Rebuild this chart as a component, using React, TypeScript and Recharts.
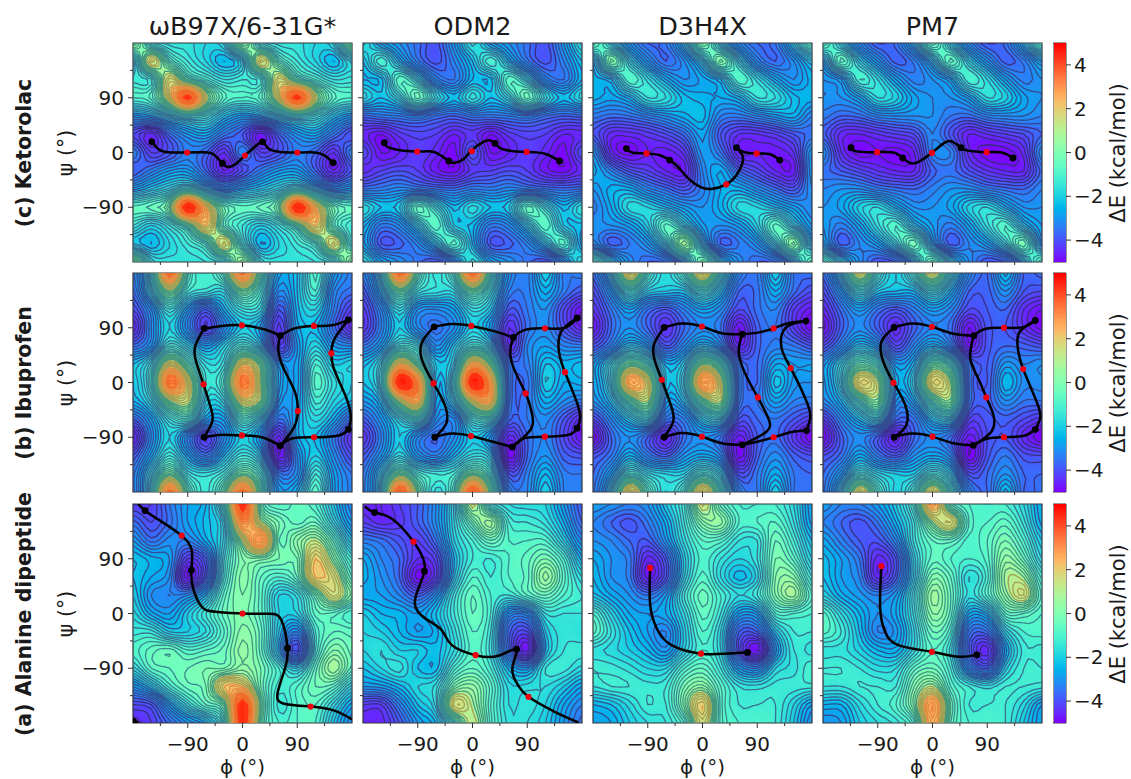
import React from "react";
import { ComposedChart, Scatter, Line, XAxis, YAxis, ReferenceArea } from "recharts";

const phiPsiTicks = [-135, -90, -45, 0, 45, 90, 135];
const majorTicks = [-90, 0, 90];
const colorbarTicks = [-4, -2, 0, 2, 4];
const colorbarLevels = Array.from({ length: 81 }, (_, i) => -5 + i * 0.125);
const methods = ["ωB97X/6-31G*", "ODM2", "D3H4X", "PM7"];
const molecules = ["(c) Ketorolac", "(b) Ibuprofen", "(a) Alanine dipeptide"];

// Energies (kcal/mol) read at phi = -180..180 (columns), psi = 180..-180 (rows), every 30 deg
const ketWb = [
[1,-1,-1.5,-1.5,-1.8,-1.5,1,-1,-1.5,-1.5,-1.8,-1.5,1],
[-1.5,1.5,-0.3,-1.2,-1.8,-2.4,-1.6,1.5,-0.3,-1.2,-1.8,-2.4,-1.5],
[-1.3,-1,1.5,0,-0.8,-1.4,-1.2,-1,1.5,0,-0.8,-1.4,-1.3],
[-0.8,-0.5,1.5,4.3,1.2,-0.5,-0.8,-0.5,1.5,4.3,1.2,-0.5,-0.8],
[-2.5,-2.2,-1.5,-0.8,-1,-2,-2.5,-2.2,-1.5,-0.8,-1,-2,-2.5],
[-4,-4.5,-3.5,-2.8,-2.5,-3.3,-3.8,-4.7,-3.6,-2.8,-2.5,-3.3,-4],
[-3.2,-4.2,-3.9,-3.3,-3.6,-4.4,-3.2,-4.2,-3.9,-3.3,-3.6,-4.4,-3.2],
[-3.8,-3.3,-2.8,-2.7,-3.6,-4.6,-4,-3.3,-2.8,-2.7,-3.6,-4.6,-3.8],
[-2.5,-2,-1.5,-0.8,-1.8,-2.7,-2.3,-2,-1.5,-0.8,-1.8,-2.7,-2.5],
[-0.5,-0.3,0.5,4.8,2,0,-0.5,-0.3,0.5,4.8,2,0,-0.5],
[-1.2,-1.8,-1.2,0,2,-0.3,-1.2,-1.8,-1.2,0,2,-0.3,-1.2],
[-2,-2.4,-1.8,-1.2,-0.5,1.5,-0.8,-2.4,-1.8,-1.2,-0.5,1.5,-0.8],
[1,-1.2,-1.5,-1.5,-1.4,-1,1,-1.2,-1.5,-1.5,-1.4,-1,1],
];
const ketOdm = [
[-1.5,-2.5,-3,-3.5,-3.9,-2.8,-1.5,-2.5,-3,-3.5,-3.9,-2.8,-1.5],
[-2.2,-1,-2.2,-3.3,-3.9,-3.2,-2.2,-1,-2.2,-3.3,-3.9,-3.2,-2.2],
[-2.4,-2.3,-0.6,-1.5,-3,-3.4,-2.4,-2.3,-0.6,-1.5,-3,-3.4,-2.4],
[-1.7,-2.2,-1.5,-0.1,-1.5,-2.3,-1.5,-2.2,-1.5,-0.1,-1.5,-2.3,-1.7],
[-3.5,-3.3,-3.2,-3,-3.4,-3.6,-3.3,-3.3,-3.2,-3,-3.4,-3.6,-3.5],
[-4.5,-4.8,-4.3,-4.1,-4.2,-4.6,-4.3,-4.8,-4.3,-4.1,-4.2,-4.6,-4.5],
[-4,-4.8,-4.6,-4.2,-4.5,-4.9,-3.8,-4.8,-4.6,-4.2,-4.5,-4.9,-4],
[-4.5,-4.2,-4,-4.2,-4.7,-4.9,-4.3,-4.2,-4,-4.2,-4.7,-4.9,-4.5],
[-3.4,-3.3,-3.1,-3.2,-3.4,-3.5,-3.2,-3.3,-3.1,-3.2,-3.4,-3.5,-3.4],
[-1.6,-2.2,-2,-0.3,-1.3,-2.3,-1.7,-2.2,-2,-0.3,-1.3,-2.3,-1.6],
[-2.3,-3.3,-3,-1.8,-0.6,-2,-2.3,-3.3,-3,-1.8,-0.6,-2,-2.3],
[-2.5,-3.8,-3.7,-3.1,-1.9,-0.7,-2.2,-3.8,-3.7,-3.1,-1.9,-0.7,-2.5],
[-1.5,-2.5,-3,-3.5,-3.8,-2.8,-1.5,-2.5,-3,-3.5,-3.8,-2.8,-1.5],
];
const ketD3 = [
[-0.2,-1.5,-2.8,-3.6,-3.4,-1.9,0.3,-1.6,-3,-3.6,-3.4,-1.8,-0.2],
[-2.2,0.3,-1.5,-2.8,-3.6,-3,-1.7,0.3,-1.5,-3,-3.6,-3,-2],
[-2.5,-2.2,-0.8,-1.5,-2.4,-3,-2.7,-2.2,-0.8,-1.5,-2.4,-3,-2.5],
[-2.5,-2.7,-2.3,-1.4,-1.6,-2.3,-2.5,-2.6,-2.3,-1.4,-1.6,-2.3,-2.5],
[-3.3,-3.5,-3.4,-3.1,-2.8,-2.5,-2.3,-3.2,-3.3,-3,-2.7,-2.5,-3.2],
[-3.8,-4.5,-4.5,-4.3,-4,-3.5,-2.7,-3.8,-4.4,-4.4,-4.2,-3.8,-3.5],
[-2.8,-4.5,-4.9,-4.6,-4.7,-4.3,-2.9,-3.4,-4.6,-4.6,-4.7,-4.4,-2.8],
[-2.5,-3.2,-3.9,-4.2,-4.6,-4.7,-3.2,-2.6,-3.6,-4.1,-4.6,-4.7,-2.8],
[-3,-2.5,-2.5,-3.1,-3.5,-3.9,-3.3,-2.6,-2.5,-3,-3.5,-3.9,-3],
[-3.3,-2.6,-1.7,-1.8,-2.2,-2.7,-3,-2.5,-1.7,-1.8,-2.2,-2.7,-3.2],
[-3,-3,-2.7,-1.9,-0.5,-1.5,-2.7,-3,-2.7,-1.8,-0.5,-1.6,-2.8],
[-2.8,-3.7,-3.4,-2.8,-1.4,1,-1.7,-3.6,-3.4,-2.8,-1.4,0.5,-2],
[-0.2,-1.8,-3,-3.6,-3.4,-2,0.2,-1.8,-3,-3.6,-3.4,-2,-0.2],
];
const ketPm7 = [
[-0.3,-1.7,-3,-3.8,-3.5,-2,0,-1.7,-3,-3.8,-3.5,-2,-0.3],
[-2.3,-0.3,-1.7,-2.8,-3.7,-3.3,-2,-0.3,-1.7,-2.8,-3.7,-3.3,-2.3],
[-3,-2.6,-1,-1.6,-2.6,-3.3,-3,-2.4,-1,-1.6,-2.6,-3.3,-3],
[-3,-3,-2.5,-1.6,-1.9,-2.7,-3,-3,-2.5,-1.6,-1.9,-2.7,-3],
[-3.3,-3.6,-3.5,-3.1,-3,-3,-3,-3.4,-3.5,-3.1,-3,-3,-3.2],
[-3.7,-4.5,-4.6,-4.4,-4.2,-4,-3.2,-3.9,-4.6,-4.4,-4.2,-4,-3.6],
[-3,-4.4,-4.9,-4.8,-4.9,-4.6,-3.2,-3.2,-4.5,-4.9,-4.9,-4.5,-3],
[-3.5,-3.8,-4.1,-4.4,-4.6,-4.6,-3.7,-3.5,-4,-4.4,-4.6,-4.6,-3.5],
[-3.2,-3,-3,-3.3,-3.5,-3.6,-3.3,-3,-3,-3.3,-3.5,-3.6,-3.2],
[-3,-2.7,-1.9,-1.6,-2.3,-3,-3,-2.7,-1.9,-1.6,-2.3,-3,-3],
[-2.8,-3.3,-2.6,-1.5,-0.8,-2,-2.8,-3.3,-2.6,-1.5,-0.8,-2,-2.8],
[-2.4,-3.7,-3.2,-2.6,-1.4,0,-2.2,-3.7,-3.2,-2.6,-1.4,0,-2.4],
[-0.3,-1.7,-3,-3.8,-3.5,-2,0,-1.7,-3,-3.8,-3.5,-2,-0.3],
];
const ibuWb = [
[-3.3,-1,3.5,-0.3,-1.2,0,3.2,0,-2.5,-2.2,-0.7,-2.5,-3.3],
[-3.5,-1.5,0.8,-1,-1.3,-1.5,0.5,-0.8,-3,-2.2,-1,-3,-3.5],
[-4,-2.8,-1.2,-2.5,-3.6,-2.3,-1.3,-1.5,-3.8,-2.3,-1.8,-3.2,-4.2],
[-4.6,-3,-1.8,-3,-4.2,-3,-2,-2.5,-4.3,-2.5,-2.3,-3.5,-4.5],
[-3.5,-2.8,-1,-1.7,-2.6,-1.8,-0.8,-1.8,-4.2,-2.8,-1.8,-2.8,-3],
[-2.2,-1.2,1.5,0,-1.5,-1.2,1.8,0.5,-2.5,-2.7,-1,-2,-1.8],
[-2.2,-0.8,3.5,1.5,-1.2,-0.5,3.4,0.8,-2.3,-2.7,-0.7,-1.5,-2],
[-2.4,-1.5,0.8,1.2,-1.6,-1.4,1.5,0.8,-2.6,-2.6,-1.1,-1.8,-2.2],
[-3.6,-2.6,-1.2,-0.7,-2.4,-2.5,-0.6,-1.5,-3.4,-2.5,-1.7,-2.4,-3.5],
[-4.7,-3,-1.8,-3,-4.2,-3,-1.9,-2.7,-4.5,-2.5,-2.2,-3.3,-4.4],
[-3.8,-2.5,-1.2,-2.4,-3.4,-2.2,-1.2,-2,-4.8,-3,-2,-3,-4],
[-3.3,-1.5,0.5,-1.2,-1.5,-1,0.5,-0.6,-3.3,-3,-1.2,-2.6,-3.4],
[-3.3,-1,3.3,0,-1.3,0.3,3.4,0,-2.6,-2.3,-0.6,-2.5,-3.3],
];
const ibuOdm = [
[-3.3,-1.2,3.5,0,-1.5,-0.3,3.5,-0.3,-2.8,-3.3,-2,-3.3,-3.3],
[-3.8,-2,0.3,-1.2,-1.5,-1.5,0.3,-1.2,-3.2,-3.3,-2.5,-3.3,-3.8],
[-4.3,-3,-1.5,-2.8,-3,-2.6,-1.5,-2,-3.8,-3.4,-3,-4,-4.8],
[-4.4,-3.2,-2,-3,-3.5,-3,-1.9,-2.7,-4.4,-3.5,-3.1,-3.9,-4.6],
[-3.4,-2.6,-1,-1.3,-3,-2,-0.8,-1.6,-4.4,-3.2,-2.8,-3.2,-3.3],
[-2.3,-1.3,2,0.3,-2,-1.5,2.3,0.5,-3.2,-3.3,-2.2,-2.5,-2.3],
[-2.2,-1,4.8,3,-2.2,-0.8,4.8,2.5,-3,-3.5,-2,-2.6,-2.5],
[-2.8,-2,1,2.3,-2.4,-1.5,1.5,2.2,-3.1,-3.4,-2.5,-3,-3.3],
[-3.7,-2.8,-1.5,-0.7,-2.8,-3,-0.9,-0.8,-3.5,-3.4,-3.1,-3.8,-4.5],
[-4.4,-3.2,-2,-3,-3.6,-3,-2,-2.7,-4.5,-3.6,-3.2,-4,-4.8],
[-3.8,-2.8,-1.6,-2.7,-3.2,-2.3,-1.5,-1.9,-4.9,-3.6,-3,-3.7,-3.9],
[-3.4,-1.7,0.5,-0.8,-1.2,-1,0.5,-0.8,-3.8,-3.3,-2.4,-3.3,-3.4],
[-3.3,-1.3,4,0.5,-1.5,-0.3,4,0.3,-3,-3.2,-2,-3.2,-3.3],
];
const ibuD3 = [
[-3.5,-1.5,1.8,-0.6,-1.7,-0.5,1.8,-0.8,-3,-3.4,-2,-3.4,-3.5],
[-4,-2.6,-0.8,-1.8,-2,-2,-0.8,-2,-3.6,-3.5,-2.6,-3.5,-4],
[-4.4,-3.4,-2.6,-3.4,-3.8,-3.2,-2.6,-3,-4,-3.5,-3.2,-4.2,-4.7],
[-4.8,-3.6,-3,-3.6,-4.4,-3.6,-3.1,-3.4,-4.8,-3.7,-3.4,-4.2,-5],
[-3.9,-3.1,-1.9,-2.5,-3.8,-3,-2,-2.8,-4.6,-3.7,-3.3,-3.4,-3.8],
[-2.8,-1.3,0.5,-0.3,-2.3,-1.8,0.8,-0.3,-3.2,-3.6,-2.6,-2.8,-2.8],
[-2.8,-1.2,2.5,1.5,-2,-1.3,2.8,1.2,-3,-3.6,-2.1,-2.9,-3],
[-3,-2,0,1,-2.5,-2,0.3,1,-3.1,-3.4,-2.7,-3.2,-3.3],
[-4,-3,-1.9,-1.2,-3.3,-3.2,-1.8,-1.4,-3.8,-3.6,-3.4,-3.8,-4.2],
[-5,-3.6,-3,-3.6,-4.6,-3.5,-3,-3.4,-4.7,-3.8,-3.5,-4.3,-5],
[-3.9,-3.4,-2.4,-3.2,-3.7,-2.9,-2.5,-3,-4.9,-3.7,-3.1,-3.7,-4],
[-3.6,-2.5,-0.7,-1.5,-1.8,-1.8,-0.6,-1.6,-3.9,-3.4,-2.6,-3.4,-3.6],
[-3.5,-1.5,2,-0.2,-1.6,-0.6,2,-0.4,-3,-3.4,-2,-3.4,-3.5],
];
const ibuPm7 = [
[-3.5,-1.5,1.5,-0.8,-2,-0.6,1.5,-1,-3,-3.6,-2.3,-3.6,-3.5],
[-4,-2.6,-1,-2,-2.2,-2.2,-1,-2.2,-3.6,-3.7,-3,-3.8,-4],
[-4.5,-3.5,-2.7,-3.4,-3.8,-3.3,-2.7,-3.1,-4,-3.8,-3.6,-4.4,-4.8],
[-4.9,-3.7,-3.1,-3.7,-4.5,-3.7,-3.2,-3.5,-4.8,-3.9,-3.8,-4.4,-4.9],
[-4,-3.1,-2,-2.6,-4,-3.1,-2.2,-3,-4.7,-3.9,-3.6,-3.7,-3.9],
[-2.9,-1.6,0,-0.6,-2.7,-2.2,0.2,-0.6,-3.3,-3.8,-2.9,-3.2,-3],
[-2.9,-1.4,1.8,1,-2.3,-1.6,1.8,0.8,-3.2,-3.8,-2.4,-3.1,-3.1],
[-3.1,-2.2,-0.4,0.7,-2.8,-2.3,-0.2,0.7,-3.2,-3.7,-3,-3.4,-3.4],
[-4.2,-3.1,-2.1,-1.4,-3.5,-3.4,-2,-1.6,-4,-3.9,-3.7,-4,-4.3],
[-5,-3.7,-3.1,-3.7,-4.7,-3.6,-3.1,-3.5,-4.7,-4,-3.8,-4.5,-5],
[-4,-3.5,-2.5,-3.3,-3.8,-3,-2.6,-3.1,-5,-3.9,-3.4,-3.9,-4],
[-3.6,-2.6,-1,-1.7,-2,-2,-0.9,-1.8,-3.9,-3.6,-3,-3.6,-3.6],
[-3.5,-1.5,1.6,-0.5,-1.9,-0.8,1.6,-0.7,-3,-3.6,-2.3,-3.6,-3.5],
];
const alaWb = [
[-4.2,-4.2,-3.4,-2.8,-2.4,-0.5,4.5,0,-0.8,-0.5,-0.8,-2,-3.2],
[-3.5,-4,-3.5,-2.8,-2.3,-1.4,3,1,0,-0.5,-0.2,-1.5,-2.8],
[-2.8,-3.5,-3.1,-3.2,-2.5,-1.5,1,3,-0.2,0.4,1,-0.3,-2],
[-2.2,-2.5,-2.8,-4.2,-3.6,-1.2,0.2,0.3,0,0,2,0.5,-1],
[-2.2,-2.6,-3,-4.8,-3.6,-1,0.3,-0.4,-0.8,-0.2,2,1.5,-0.4],
[-2,-3,-3.2,-3,-2.2,-0.5,0.2,-0.5,-1.8,-1.5,0,1.5,0.3],
[-1.7,-2.5,-2.8,-2,-1.2,-0.3,0.1,-0.5,-1.8,-1.8,-0.5,-0.5,-1],
[-1.3,-1.3,-2,-2,-1.6,-0.6,0.3,-0.3,-2,-3,-1,-0.4,-0.5],
[-0.9,-0.5,-0.3,-0.8,-0.6,-0.3,0.5,-0.3,-2.2,-3.9,-1,0.2,-0.3],
[-1.5,-0.6,-0.4,-0.2,0,0,0.5,0,-1,-1.8,-0.3,0.8,-0.3],
[-2.8,-2,-0.9,-0.3,0,2,2,0,-1.1,-0.8,-0.2,-0.4,-1.5],
[-4,-3.8,-2.5,-1.3,-0.4,0.3,4.5,0.5,-1.3,-0.8,-0.6,-1.5,-2.5],
[-4.5,-4.2,-3.5,-2.8,-2.2,-0.5,4.5,0.2,-1,-0.8,-0.8,-2,-3],
];
const alaOdm = [
[-4.5,-4.6,-4.2,-3.8,-3,-1.5,1.2,-1,-1.6,-1.7,-1.8,-2.8,-3.8],
[-4.2,-4.5,-4.3,-3.8,-3,-1.6,0,0.9,-1,-1.2,-1.5,-2.4,-3.6],
[-3.3,-3.5,-3.9,-4.2,-3.4,-1.8,-1,-0.2,-0.8,-0.8,-0.8,-1.8,-3],
[-2.6,-3.2,-3.6,-4.4,-4.1,-2.2,-1.2,-1.2,-0.8,-0.5,0,-0.8,-2.3],
[-2.5,-3,-3.6,-4.9,-4.2,-2,-0.8,-1.2,-0.8,-0.5,0.7,-0.5,-1.6],
[-2.7,-2.8,-3.2,-3.7,-2.9,-1.3,-0.4,-1,-1.2,-0.6,-0.2,-0.8,-1.2],
[-2,-2.4,-2.5,-2.8,-2.2,-1.2,-0.4,-1,-2.8,-2.8,-1.4,-1.4,-1.4],
[-1.8,-2,-2.4,-2.8,-2.5,-1.5,-0.6,-1.2,-3.5,-4,-2,-1.5,-1.6],
[-1.8,-1.6,-2,-2,-2.3,-1.6,-0.7,-1.3,-3.4,-4.7,-2.2,-1.4,-1.3],
[-2.2,-1.8,-1.5,-2.2,-2.3,-0.9,-0.4,-1,-2.3,-2.7,-1.4,-1.3,-1.7],
[-2.8,-2.7,-2.3,-1.8,-1.5,0.2,0.5,-0.5,-1.7,-1.7,-1.6,-2,-2.6],
[-4.2,-4.2,-3.2,-2.2,-1.5,1.5,0.9,-0.6,-1.6,-1.5,-1.8,-2.6,-3.2],
[-4.5,-4.5,-3.8,-2.8,-2.2,-0.5,1.2,-0.5,-1.5,-1.6,-2,-2.8,-3.5],
];
const alaD3 = [
[-2.8,-3,-3.2,-3,-2,-1,1.3,-0.3,-1,-1,-1,-1.6,-2.8],
[-3.2,-3.6,-3.9,-3.4,-2.5,-1.2,0.3,0.5,-0.8,-0.8,-0.6,-1.4,-2.7],
[-3,-3.2,-3.6,-3.8,-2.8,-1.5,-0.6,-0.7,-1.4,-1.4,-0.2,-1,-2.2],
[-2.6,-3,-3.3,-4.5,-3.7,-1.9,-0.9,-1.4,-1.8,-1.4,0,-0.5,-1.8],
[-2.4,-3,-3.3,-4.7,-3.8,-1.8,-0.7,-1.6,-2.3,-1.7,0.2,0.3,-1.2],
[-2.1,-2.6,-3,-3.4,-2.8,-1.2,-0.3,-1,-1.6,-1.2,0.2,0.9,-0.6],
[-0.8,-1.8,-2.6,-2.8,-2.6,-1.6,-0.5,-1.2,-2.6,-2.5,-0.8,-0.8,-1],
[-0.5,-1.4,-2.2,-2.8,-3.2,-1.9,-0.8,-1.6,-3.6,-3.6,-2,-1.2,-1.2],
[-1.5,-1.7,-2,-2.4,-2.9,-1.8,-1,-1.6,-3.8,-4.8,-2.7,-1.4,-1.5],
[-1.2,-1.3,-1.5,-1.8,-1.8,-0.8,-0.4,-1.2,-2.6,-3,-1.8,-1.5,-1],
[-1.4,-1.2,-1.2,-1.3,-1.2,0,0.5,-0.6,-1.4,-1.5,-1.3,-1.3,-1.3],
[-2.4,-2.2,-1.7,-1.2,-1.2,0.3,2,-0.5,-1.2,-1.2,-1.2,-1.8,-2.6],
[-2.8,-2.6,-2,-1.6,-1.4,-0.6,1.5,-0.5,-1,-1,-1.2,-2,-3],
];
const alaPm7 = [
[-2.8,-3.2,-3.2,-2.8,-2,-0.6,2.5,-0.2,-0.8,-1,-1,-1.6,-2.6],
[-3.2,-3.6,-3.9,-3.4,-2.4,-1.2,0.8,1.6,-0.6,-0.8,-0.5,-1.3,-2.5],
[-2.7,-3.3,-3.8,-3.9,-3,-1.3,-0.4,-0.3,-0.9,-0.6,0,-0.8,-2],
[-2.3,-2.8,-3.4,-4.5,-3.8,-1.7,-0.5,-0.8,-1,-0.7,0.5,-0.2,-1.6],
[-2.2,-2.8,-3.2,-4.5,-3.7,-1.7,0.1,-0.4,-1.6,-0.9,0.9,0.8,-0.9],
[-1.8,-2.5,-2.9,-3.2,-2.8,-1.2,0.7,-0.2,-1.5,-0.7,0.6,1.4,-0.5],
[-0.7,-1.6,-2.4,-3,-2.6,-1.3,0.4,-0.3,-2.4,-2.2,-0.4,-0.4,-0.8],
[-0.7,-1.2,-2.2,-3.2,-2.9,-1.6,-0.2,-0.8,-3.3,-3.4,-1.7,-1,-0.9],
[-1.5,-1.5,-1.9,-2.4,-2.5,-1.5,-0.6,-1.3,-3.6,-4.5,-2.5,-1.3,-1.3],
[-1.2,-1.2,-1.4,-1.7,-1.6,-0.5,-0.2,-1,-2.9,-3.6,-1.9,-1.2,-1.2],
[-1.4,-1.4,-1.2,-1.2,-1.2,0.2,1,-0.6,-1.2,-1.5,-1.2,-1.2,-1.3],
[-2.4,-2.4,-1.7,-1.2,-0.8,0.5,2.8,0,-1.2,-1.2,-1.2,-1.7,-2.6],
[-3,-2.8,-2,-1.6,-1.3,-0.5,2.5,-0.2,-1,-1,-1.2,-2,-2.8],
];

// Reaction paths: each entry is one drawn curve of [phi, psi] points
const ketWbPaths = [[[-149,17.5],[-138,5.5],[-122,0.5],[-91,0],[-64,0.5],[-48,-3],[-33,-18],[-23,-24],[-10,-18],[4,-5],[20,9],[33,17.5],[42.5,6.5],[62,1],[90,0],[119,0],[136,-5.5],[149,-17]]];
const ketOdmPaths = [[[-145,16],[-133,6.5],[-91,1.5],[-62,0.5],[-39,-14],[-29,-17],[-15,-11],[-1,4],[18,17.5],[28,20],[37,15],[51,5],[89,1],[119,-2],[143,-14]]];
const ketD3Paths = [
[[-125,6.5],[-116,0],[-92,-1.5],[-70,-4.5],[-54,-12.5],[-40,-24],[-23,-43],[-4,-56.5],[15,-60],[39,-52.5],[56,-37],[65.5,-18],[65.5,-4.5],[56,8]],
[[56,8],[67,1],[89,-1.5],[111,-3],[127,-12.5]],
];
const ketPm7Paths = [[[-134,8],[-125,2],[-91,0.5],[-64,0],[-49,-9],[-34,-18],[-18,-12.5],[-1,-0.5],[18,15],[32,18],[47,8],[59,3],[89,0.5],[114,0],[132,-9]]];
const ibuWbPaths = [
[[-63,89],[-34,93],[-1,94],[37,87],[62,77]],
[[62,77],[86,89],[117.5,93],[147,94],[174,103]],
[[-63,89],[-77,62],[-77,37],[-64,-3],[-52,-42],[-49.6,-64],[-63,-90]],
[[62,77],[59,51],[70,18],[86,-15],[91,-47],[84,-75],[62,-104]],
[[174,103],[152,73],[146,48],[152,18],[171,-26],[178,-59],[174,-77]],
[[-63,-90],[-34,-86],[-1,-87],[32,-90],[62,-104]],
[[62,-104],[81,-92],[117.5,-90],[158,-87],[174,-77]],
];
const ibuOdmPaths = [
[[-63,91.5],[-34,96],[-2,93],[37,84],[67,74]],
[[67,74],[86,86.5],[119,89],[152,90],[172,106]],
[[-63,91.5],[-81,70],[-84,40],[-64,-1.5],[-48,-31],[-42,-64],[-62,-90]],
[[67,74],[64,34.5],[87.5,-18],[97,-48],[97,-75],[65.5,-106]],
[[172,106],[146,84],[142,51],[152,17],[171,-31],[177,-59],[172,-75]],
[[-62,-90],[-34,-84],[-2.5,-88],[32,-97],[65.5,-106]],
[[65.5,-106],[86,-91.5],[119,-89],[158,-86],[172,-75]],
];
const ibuD3Paths = [
[[-63,90.5],[-34,97],[-1,92],[32,81],[65.5,79.5]],
[[65.5,79.5],[91,82],[117,89],[141,97.5],[170,101]],
[[-63,90.5],[-80,62],[-78,34.5],[-67,4.5],[-52,-37],[-48,-64],[-63,-90]],
[[65.5,79.5],[60,45.5],[75,4.5],[91,-24.5],[108,-58.5],[105.5,-80.5],[65.5,-102.5]],
[[170,101],[136,89],[130,56.5],[145,23.5],[171,-31],[177,-58.5],[171,-79]],
[[-63,-90],[-34,-83],[-1,-89],[32,-100],[65.5,-102.5]],
[[65.5,-102.5],[91,-97],[117,-90],[147,-81.5],[171,-79]],
];
const ibuPm7Paths = [
[[-63,90.5],[-34,97],[-1,91.5],[35,80],[68,77]],
[[68,77],[86,88],[117.5,90],[149,91],[169,102]],
[[-63,90.5],[-84,67],[-81,34.5],[-64,-0.5],[-45,-36.7],[-43,-70],[-63,-90]],
[[68,77],[62,40],[75,7],[88.5,-24.5],[100,-53],[97,-80.5],[67,-103.5]],
[[169,102],[142,81],[141,51],[149,22],[171,-31],[177,-58.5],[169,-77]],
[[-63,-90],[-34,-84],[0,-89],[35,-100],[67,-103.5]],
[[67,-103.5],[89,-92.5],[117.5,-90],[152,-87],[169,-77]],
];
const alaWbPaths = [
[[-171,180],[-160,169],[-133,151],[-100,128],[-83.5,104],[-84,71],[-81,41],[-67,11],[-45,3],[0,0],[42.5,-0.5],[64,-11],[74,-57],[70,-90],[58,-129],[67,-148],[112,-153],[152,-160],[180,-174]],
[[-180,-174],[-171,-180]],
];
const alaOdmPaths = [[[-177,176],[-161,166],[-133,156],[-97,118],[-81,90],[-79,69.5],[-89,41],[-94.5,14],[-78,-8],[-51,-27],[-34,-52],[5,-68.5],[42.5,-69.5],[72.5,-58.5],[65.5,-90],[75,-118],[92,-137],[136,-162],[174,-179]]];
const alaD3Paths = [[[-86,75],[-86,14],[-75,-25],[-51,-52],[-2.5,-66],[37,-66],[74,-64]]];
const alaPm7Paths = [[[-84,78],[-86,8],[-78,-30],[-56,-52],[-1,-63],[42.5,-71],[73,-68]]];

const ketWbBlack = [[-149,17.5],[-33,-18],[33,17.5],[149,-17]];
const ketWbRed = [[-91,0],[4,-5],[90,0]];
const ketOdmBlack = [[-145,16],[-39,-14],[37,15],[143,-14]];
const ketOdmRed = [[-91,1.5],[-1,2],[89,1]];
const ketD3Black = [[-125,6.5],[-54,-12.5],[56,8],[127,-12.5]];
const ketD3Red = [[-92,-1.5],[39,-52.5],[89,-1.5]];
const ketPm7Black = [[-134,8],[-49,-9],[47,8],[132,-9]];
const ketPm7Red = [[-91,0.5],[-1,-0.5],[89,0.5]];
const ibuWbBlack = [[-63,89],[62,77],[174,103],[-63,-90],[62,-104],[174,-77]];
const ibuWbRed = [[-1,94],[117.5,93],[146,48],[-64,-3],[91,-47],[-1,-87],[117.5,-90]];
const ibuOdmBlack = [[-63,91.5],[67,74],[172,106],[-62,-90],[65.5,-106],[172,-75]];
const ibuOdmRed = [[-2,93],[119,89],[152,17],[-64,-1.5],[87.5,-18],[-2.5,-88],[119,-89]];
const ibuD3Black = [[-63,90.5],[65.5,79.5],[170,101],[-63,-90],[65.5,-102.5],[171,-79]];
const ibuD3Red = [[-1,92],[117,89],[145,23.5],[-67,4.5],[91,-24.5],[-1,-89],[117,-90]];
const ibuPm7Black = [[-63,90.5],[68,77],[169,102],[-63,-90],[67,-103.5],[169,-77]];
const ibuPm7Red = [[-1,91.5],[117.5,90],[149,22],[-64,-0.5],[88.5,-24.5],[0,-89],[117.5,-90]];
const alaWbBlack = [[-160,169],[-84,71],[74,-57],[-180,-177]];
const alaWbRed = [[-100,128],[0,0],[112,-153]];
const alaOdmBlack = [[-161,166],[-79,69.5],[72.5,-58.5]];
const alaOdmRed = [[-97,118],[5,-68.5],[92,-137]];
const alaD3Black = [[74,-64]];
const alaD3Red = [[-86,75],[-2.5,-66]];
const alaPm7Black = [[73,-68]];
const alaPm7Red = [[-84,78],[-1,-63]];

const rows = [
  [[ketWb, ketWbPaths, ketWbBlack, ketWbRed],[ketOdm, ketOdmPaths, ketOdmBlack, ketOdmRed],[ketD3, ketD3Paths, ketD3Black, ketD3Red],[ketPm7, ketPm7Paths, ketPm7Black, ketPm7Red]],
  [[ibuWb, ibuWbPaths, ibuWbBlack, ibuWbRed],[ibuOdm, ibuOdmPaths, ibuOdmBlack, ibuOdmRed],[ibuD3, ibuD3Paths, ibuD3Black, ibuD3Red],[ibuPm7, ibuPm7Paths, ibuPm7Black, ibuPm7Red]],
  [[alaWb, alaWbPaths, alaWbBlack, alaWbRed],[alaOdm, alaOdmPaths, alaOdmBlack, alaOdmRed],[alaD3, alaD3Paths, alaD3Black, alaD3Red],[alaPm7, alaPm7Paths, alaPm7Black, alaPm7Red]],
];

// Contour line colours by energy band: [lower bound, upper bound, stroke]
const contourBands: [number, number, string][] = [
  [-5, -3.5, "#3a2a78"],
  [-3.5, -2, "#35458a"],
  [-2, -1, "#36668c"],
  [-1, 0, "#357f8c"],
  [0, 1, "#3f8f7a"],
  [1, 2, "#a09a50"],
  [2, 3, "#e08a40"],
  [3, 4, "#f06a28"],
  [4, 5.01, "#ff3010"],
];
const LEVEL_STEP = 0.2;

const panelX = [133, 363, 593, 823];
const panelY = [43, 273, 504];
const SIZE = 219;
const L = 50, T = 2, B = 50, R = 3;
const UP = 4;
const STEP = 30 / UP;

function rainbow(v: number) {
  const t = Math.max(0, Math.min(1, (v + 5) / 10));
  const r = Math.min(1, Math.abs(2 * t - 0.5));
  const g = Math.sin(Math.PI * t);
  const b = Math.cos((Math.PI * t) / 2);
  return `rgb(${Math.round(r * 255)},${Math.round(g * 255)},${Math.round(b * 255)})`;
}

const cr = (a: number, b: number, c: number, d: number, t: number) =>
  0.5 * (2 * b + (c - a) * t + (2 * a - 5 * b + 4 * c - d) * t * t + (3 * b - a - 3 * c + d) * t * t * t);

// Display mesh of the read-off table, as a contour plot resamples its grid
function mesh(g: number[][]) {
  const n = g.length;
  const at = (r: number, c: number) => g[Math.max(0, Math.min(n - 1, r))][Math.max(0, Math.min(n - 1, c))];
  const m = (n - 1) * UP + 1;
  const out: number[][] = [];
  for (let i = 0; i < m; i++) {
    const r0 = Math.floor(i / UP), tr = i / UP - r0;
    const row: number[] = [];
    for (let j = 0; j < m; j++) {
      const c0 = Math.floor(j / UP), tc = j / UP - c0;
      const vals = [-1, 0, 1, 2].map((dr) =>
        cr(at(r0 + dr, c0 - 1), at(r0 + dr, c0), at(r0 + dr, c0 + 1), at(r0 + dr, c0 + 2), tc));
      row.push(cr(vals[0], vals[1], vals[2], vals[3], tr));
    }
    out.push(row);
  }
  return out;
}

function heatCells(f: number[][]) {
  const cells: any[] = [];
  f.forEach((row, i) => row.forEach((v, j) => cells.push({ x: -180 + j * STEP, y: 180 - i * STEP, v })));
  return cells;
}

function contours(f: number[][], lo: number, hi: number) {
  const pts: any[] = [];
  const m = f.length;
  for (let k = 0; k <= 50; k++) {
    const lv = -5 + k * LEVEL_STEP + 0.001;
    if (lv < lo || lv >= hi) continue;
    for (let i = 0; i < m - 1; i++) for (let j = 0; j < m - 1; j++) {
      const a = f[i][j], b = f[i][j + 1], c = f[i + 1][j + 1], d = f[i + 1][j];
      const X = -180 + j * STEP, Y = 180 - i * STEP;
      const cross: number[][] = [];
      if (a < lv !== b < lv) cross.push([X + STEP * (lv - a) / (b - a), Y]);
      if (b < lv !== c < lv) cross.push([X + STEP, Y - STEP * (lv - b) / (c - b)]);
      if (c < lv !== d < lv) cross.push([X + STEP * (1 - (lv - c) / (d - c)), Y - STEP]);
      if (d < lv !== a < lv) cross.push([X, Y - STEP * (1 - (lv - d) / (a - d))]);
      for (let q = 0; q + 1 < cross.length; q += 2) {
        pts.push({ x: cross[q][0], y: cross[q][1] }, { x: cross[q + 1][0], y: cross[q + 1][1] }, { x: cross[q + 1][0], y: null });
      }
    }
  }
  return pts;
}

const toXY = (a: number[][]) => a.map(([x, y]) => ({ x, y }));
const dom: [number, number] = [-180, 180];
const CELL = (STEP / 360) * SIZE + 0.8;
const heatShape = (p: any) => (
  <rect x={p.cx - CELL / 2} y={p.cy - CELL / 2} width={CELL} height={CELL} fill={rainbow(p.payload.v)} />
);

function xTick(showLabel: boolean) {
  return (p: any) => {
    const v = p.payload.value;
    const major = majorTicks.includes(v);
    const y0 = T + SIZE;
    return (
      <g>
        <line x1={p.x} x2={p.x} y1={y0} y2={y0 + (major ? 5 : 3)} stroke="#333" strokeWidth={1} />
        {showLabel && major ? (
          <text x={p.x} y={y0 + 28} textAnchor="middle" fontSize={20} fill="#1a1a1a">{v < 0 ? `−${-v}` : v}</text>
        ) : null}
      </g>
    );
  };
}
function yTick(showLabel: boolean) {
  return (p: any) => {
    const v = p.payload.value;
    const major = majorTicks.includes(v);
    return (
      <g>
        <line x1={L - (major ? 5 : 3)} x2={L} y1={p.y} y2={p.y} stroke="#333" strokeWidth={1} />
        {showLabel && major ? (
          <text x={L - 9} y={p.y + 7} textAnchor="end" fontSize={20} fill="#1a1a1a">{v < 0 ? `−${-v}` : v}</text>
        ) : null}
      </g>
    );
  };
}

function Panel({ row, col, spec }: any) {
  const [grid, paths, black, red] = spec;
  const f = mesh(grid);
  const w = L + SIZE + R, h = T + SIZE + B;
  const pos = { position: "absolute" as const, left: panelX[col] - L, top: panelY[row] - T };
  return (
    <>
      <div style={pos}>
        <ComposedChart width={w} height={h} margin={{ left: L, top: T, right: R, bottom: B }}>
          <XAxis type="number" dataKey="x" domain={dom} hide allowDataOverflow />
          <YAxis type="number" dataKey="y" domain={dom} hide allowDataOverflow />
          <Scatter data={heatCells(f)} shape={heatShape} isAnimationActive={false} />
        </ComposedChart>
      </div>
      <div style={pos}>
        <ComposedChart width={w} height={h} margin={{ left: 0, top: T, right: R, bottom: 0 }}>
          <XAxis type="number" dataKey="x" domain={dom} ticks={phiPsiTicks} interval={0} height={B} tickLine={false} axisLine={false} tick={xTick(row === 2)} allowDataOverflow />
          <YAxis type="number" dataKey="y" domain={dom} ticks={phiPsiTicks} interval={0} width={L} tickLine={false} axisLine={false} tick={yTick(col === 0)} allowDataOverflow />
          {contourBands.map(([lo, hi, color]) => (
            <Line key={lo} data={contours(f, lo, hi)} dataKey="y" type="linear" dot={false} activeDot={false} stroke={color} strokeOpacity={0.92} strokeWidth={1.3} strokeLinecap="round" isAnimationActive={false} />
          ))}
          <Line data={toXY(red)} dataKey="y" stroke="none" strokeWidth={0} dot={{ r: 3.1, fill: "#f00010", stroke: "none" }} activeDot={false} isAnimationActive={false} />
          {paths.map((pa: number[][], i: number) => (
            <Line key={i} data={toXY(pa)} dataKey="y" type="natural" dot={false} activeDot={false} stroke="#000" strokeWidth={2.5} isAnimationActive={false} />
          ))}
          <Line data={toXY(black)} dataKey="y" stroke="none" strokeWidth={0} dot={{ r: 3.4, fill: "#000", stroke: "none" }} activeDot={false} isAnimationActive={false} />
          <ReferenceArea x1={-180} x2={180} y1={-180} y2={180} fill="none" stroke="#333" strokeWidth={1.2} />
        </ComposedChart>
      </div>
    </>
  );
}

const barData = colorbarLevels.map((v) => ({ x: 0, y: v, v }));
const barShape = (p: any) => (
  <rect x={1} y={p.cy - 2} width={12} height={4} fill={rainbow(p.payload.v)} />
);
function Colorbar({ top }: { top: number }) {
  return (
    <div style={{ position: "absolute", left: 1053, top: top - T }}>
      <ComposedChart width={60} height={SIZE + T + 4} margin={{ left: 0, top: T, right: 0, bottom: 4 }}>
        <XAxis type="number" dataKey="x" domain={[-1, 1]} hide />
        <YAxis type="number" dataKey="y" domain={[-5, 5]} ticks={colorbarTicks} interval={0} orientation="right" width={47} tickLine={false} axisLine={false} allowDataOverflow
          tick={(p: any) => (
            <g>
              <line x1={13} x2={18} y1={p.y} y2={p.y} stroke="#333" />
              <text x={21} y={p.y + 7} fontSize={20} fill="#1a1a1a">{p.payload.value < 0 ? `−${-p.payload.value}` : p.payload.value}</text>
            </g>
          )} />
        <Scatter data={barData} shape={barShape} isAnimationActive={false} />
        <ReferenceArea x1={-1} x2={1} y1={-5} y2={5} fill="none" stroke="#333" strokeWidth={1} />
      </ComposedChart>
    </div>
  );
}

const rotated = (cx: number, cy: number, size: number, bold = false): React.CSSProperties => ({
  position: "absolute", left: cx, top: cy, transform: "translate(-50%,-50%) rotate(-90deg)",
  whiteSpace: "nowrap", fontSize: size, lineHeight: 1, fontWeight: bold ? 700 : 400, color: "#1a1a1a",
});

export default function App() {
  return (
    <div style={{ position: "absolute", left: 0, top: 0, width: 1131, height: 779, background: "#fff", overflow: "hidden", fontFamily: "'DejaVu Sans', sans-serif" }}>
      {rows.map((r, ri) => r.map((spec, ci) => <Panel key={`${ri}-${ci}`} row={ri} col={ci} spec={spec} />))}
      {panelY.map((y) => <Colorbar key={y} top={y} />)}
      {methods.map((m, i) => (
        <div key={m} style={{ position: "absolute", left: panelX[i] + SIZE / 2, top: 27, transform: "translate(-50%,-50%)", fontSize: 25.5, lineHeight: 1, whiteSpace: "nowrap", color: "#1a1a1a" }}>{m}</div>
      ))}
      {panelX.map((x) => (
        <div key={x} style={{ position: "absolute", left: x + SIZE / 2, top: 767, transform: "translate(-50%,-50%)", fontSize: 20, lineHeight: 1, whiteSpace: "nowrap", color: "#1a1a1a" }}>ϕ (°)</div>
      ))}
      {panelY.map((y, i) => (
        <React.Fragment key={y}>
          <div style={rotated(66, y + SIZE / 2, 20.5)}>ψ (°)</div>
          <div style={rotated(24, y + SIZE / 2, 20.5, true)}>{molecules[i]}</div>
          <div style={rotated(1118, y + SIZE / 2, 21)}>ΔE (kcal/mol)</div>
        </React.Fragment>
      ))}
    </div>
  );
}
